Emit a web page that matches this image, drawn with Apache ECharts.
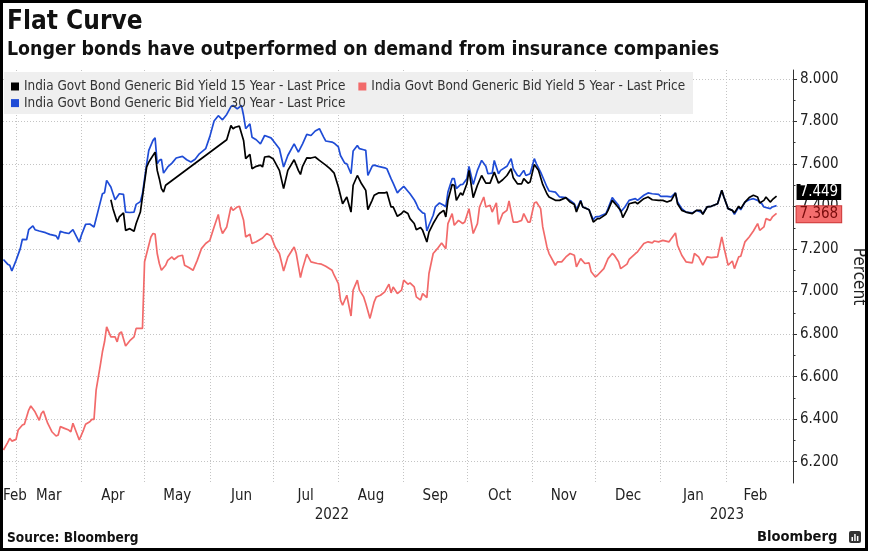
<!DOCTYPE html>
<html><head><meta charset="utf-8">
<script src="https://cdn.jsdelivr.net/npm/echarts@6/dist/echarts.min.js"></script>
<style>html,body{margin:0;padding:0;background:#fff}#c{width:869px;height:554px}</style>
</head><body><div id="c"></div>
<script>
// ---- data (x = days since 2022-03-01, y = yield %) ----
const name15 = 'India Govt Bond Generic Bid Yield 15 Year - Last Price';
const name5 = 'India Govt Bond Generic Bid Yield 5 Year - Last Price';
const name30 = 'India Govt Bond Generic Bid Yield 30 Year - Last Price';

const yield30 = [[-6,7.151],[-4,7.129],[-3,7.124],[-2,7.097],[0,7.147],[2,7.202],[3,7.246],[5,7.244],[6,7.291],[8,7.309],[9,7.291],[11,7.285],[14,7.277],[16,7.269],[19,7.262],[20,7.246],[21,7.284],[23,7.277],[25,7.273],[27,7.291],[30,7.233],[31,7.265],[33,7.316],[35,7.318],[37,7.304],[39,7.382],[41,7.460],[42,7.465],[43,7.523],[45,7.492],[47,7.432],[49,7.460],[51,7.457],[52,7.374],[54,7.372],[56,7.374],[57,7.410],[59,7.423],[60,7.460],[62,7.601],[63,7.664],[65,7.711],[66,7.723],[67,7.601],[68,7.617],[69,7.622],[70,7.557],[72,7.586],[74,7.604],[76,7.628],[79,7.636],[81,7.620],[83,7.609],[85,7.622],[87,7.648],[90,7.672],[92,7.730],[94,7.802],[96,7.827],[98,7.808],[100,7.833],[102,7.870],[103,7.875],[105,7.859],[107,7.875],[108,7.828],[109,7.766],[111,7.789],[112,7.726],[114,7.714],[116,7.695],[118,7.734],[121,7.723],[122,7.711],[125,7.672],[127,7.586],[129,7.640],[132,7.695],[134,7.656],[136,7.695],[138,7.739],[140,7.734],[142,7.755],[144,7.766],[146,7.726],[147,7.708],[150,7.703],[151,7.698],[153,7.680],[154,7.640],[156,7.604],[157,7.601],[159,7.554],[160,7.661],[162,7.687],[163,7.672],[165,7.667],[166,7.664],[167,7.546],[169,7.589],[170,7.595],[172,7.589],[175,7.582],[176,7.578],[178,7.531],[179,7.510],[181,7.464],[182,7.476],[184,7.495],[185,7.484],[187,7.460],[189,7.432],[190,7.413],[191,7.390],[193,7.370],[194,7.367],[195,7.285],[196,7.312],[198,7.359],[199,7.398],[201,7.417],[203,7.406],[204,7.398],[205,7.468],[207,7.531],[208,7.531],[209,7.484],[211,7.503],[212,7.504],[214,7.531],[215,7.589],[217,7.504],[219,7.570],[221,7.617],[223,7.589],[224,7.554],[226,7.557],[227,7.617],[229,7.554],[230,7.570],[233,7.589],[235,7.625],[236,7.578],[238,7.546],[239,7.542],[241,7.570],[242,7.546],[244,7.554],[246,7.625],[247,7.601],[249,7.562],[250,7.539],[252,7.492],[253,7.473],[256,7.468],[258,7.445],[261,7.442],[263,7.429],[265,7.413],[266,7.385],[268,7.429],[269,7.398],[271,7.390],[272,7.385],[274,7.338],[275,7.351],[277,7.354],[280,7.367],[281,7.390],[283,7.442],[284,7.429],[286,7.406],[287,7.374],[289,7.398],[291,7.429],[294,7.437],[295,7.429],[298,7.453],[300,7.464],[302,7.460],[305,7.457],[306,7.448],[309,7.448],[311,7.445],[313,7.464],[314,7.421],[316,7.390],[318,7.374],[321,7.370],[323,7.382],[325,7.374],[326,7.367],[328,7.398],[330,7.401],[333,7.413],[335,7.476],[336,7.445],[338,7.390],[340,7.382],[341,7.363],[343,7.398],[344,7.385],[346,7.421],[348,7.432],[350,7.437],[352,7.429],[354,7.413],[355,7.398],[358,7.390],[359,7.398],[361,7.404]];

const yield15 = [[45,7.432],[46,7.390],[48,7.327],[49,7.351],[51,7.370],[52,7.288],[54,7.296],[56,7.284],[57,7.320],[59,7.374],[60,7.445],[62,7.586],[63,7.609],[64,7.625],[66,7.656],[67,7.570],[68,7.531],[69,7.484],[70,7.468],[71,7.500],[100,7.714],[102,7.781],[103,7.766],[104,7.773],[106,7.778],[108,7.711],[109,7.625],[111,7.645],[112,7.578],[114,7.589],[116,7.595],[117,7.586],[118,7.633],[120,7.636],[122,7.625],[125,7.570],[127,7.484],[129,7.570],[132,7.620],[134,7.570],[135,7.551],[136,7.589],[138,7.629],[140,7.628],[142,7.633],[144,7.617],[147,7.595],[149,7.578],[151,7.557],[153,7.492],[155,7.413],[157,7.445],[159,7.374],[160,7.500],[162,7.546],[164,7.507],[165,7.492],[166,7.476],[167,7.385],[169,7.429],[170,7.453],[172,7.464],[175,7.464],[176,7.468],[178,7.398],[179,7.398],[181,7.354],[183,7.367],[184,7.379],[186,7.367],[187,7.343],[189,7.320],[190,7.291],[192,7.301],[193,7.288],[195,7.233],[196,7.280],[198,7.320],[200,7.354],[201,7.367],[203,7.382],[204,7.351],[205,7.429],[207,7.504],[208,7.500],[209,7.429],[211,7.464],[212,7.453],[214,7.507],[215,7.570],[217,7.442],[219,7.500],[221,7.546],[223,7.510],[225,7.510],[227,7.562],[229,7.510],[231,7.526],[233,7.546],[235,7.578],[236,7.535],[238,7.507],[240,7.507],[241,7.531],[243,7.510],[244,7.515],[246,7.598],[248,7.570],[250,7.504],[252,7.460],[253,7.445],[256,7.429],[258,7.429],[261,7.442],[263,7.421],[265,7.410],[266,7.374],[268,7.426],[269,7.398],[272,7.385],[274,7.327],[276,7.343],[277,7.343],[280,7.363],[281,7.382],[283,7.429],[285,7.406],[287,7.382],[288,7.348],[290,7.385],[291,7.413],[294,7.421],[295,7.413],[298,7.437],[300,7.445],[302,7.432],[305,7.429],[307,7.429],[309,7.421],[311,7.429],[313,7.464],[314,7.413],[316,7.382],[318,7.374],[321,7.367],[323,7.382],[325,7.382],[326,7.363],[328,7.398],[330,7.401],[333,7.413],[335,7.476],[336,7.445],[338,7.390],[340,7.382],[341,7.370],[343,7.401],[344,7.390],[346,7.421],[348,7.442],[350,7.453],[352,7.445],[353,7.417],[355,7.429],[356,7.445],[358,7.421],[359,7.432],[361,7.449]];

const yield5 = [[-6,6.255],[-4,6.290],[-3,6.310],[-2,6.297],[0,6.305],[1,6.349],[3,6.373],[4,6.377],[6,6.443],[7,6.462],[9,6.435],[11,6.395],[12,6.427],[13,6.438],[15,6.381],[17,6.341],[19,6.321],[20,6.326],[21,6.365],[23,6.357],[25,6.349],[26,6.341],[27,6.381],[30,6.302],[32,6.349],[33,6.376],[35,6.388],[36,6.399],[37,6.399],[38,6.537],[40,6.654],[41,6.717],[42,6.764],[43,6.834],[45,6.787],[47,6.787],[48,6.764],[49,6.803],[50,6.811],[52,6.744],[54,6.769],[56,6.787],[57,6.827],[59,6.827],[60,6.827],[61,7.140],[62,7.179],[64,7.257],[65,7.273],[66,7.270],[67,7.179],[68,7.132],[69,7.100],[71,7.124],[72,7.147],[74,7.163],[75,7.151],[77,7.166],[79,7.171],[80,7.124],[82,7.113],[84,7.100],[86,7.147],[88,7.202],[90,7.226],[92,7.241],[94,7.304],[96,7.363],[97,7.304],[98,7.273],[100,7.304],[102,7.398],[103,7.382],[105,7.398],[106,7.401],[108,7.335],[109,7.257],[111,7.270],[112,7.226],[114,7.234],[117,7.252],[119,7.273],[121,7.262],[123,7.210],[125,7.179],[127,7.097],[129,7.163],[132,7.210],[133,7.179],[135,7.066],[136,7.108],[138,7.176],[140,7.140],[143,7.132],[145,7.129],[147,7.119],[150,7.100],[151,7.077],[153,7.038],[154,6.960],[155,6.936],[157,6.983],[159,6.885],[160,7.007],[162,7.054],[163,7.007],[165,6.975],[166,6.944],[168,6.874],[170,6.952],[171,6.975],[173,6.983],[175,6.999],[177,7.035],[178,6.994],[179,7.022],[181,6.991],[183,7.007],[184,7.054],[186,7.035],[187,7.041],[189,7.022],[190,6.975],[192,6.960],[193,6.991],[195,6.972],[196,7.085],[198,7.179],[200,7.202],[202,7.229],[204,7.202],[205,7.320],[207,7.367],[208,7.312],[210,7.335],[212,7.320],[213,7.327],[215,7.390],[217,7.273],[219,7.320],[220,7.398],[222,7.445],[223,7.398],[225,7.406],[226,7.374],[228,7.417],[229,7.316],[231,7.367],[233,7.382],[234,7.426],[236,7.327],[238,7.327],[240,7.335],[241,7.367],[243,7.327],[244,7.327],[246,7.417],[247,7.421],[249,7.390],[250,7.304],[252,7.210],[253,7.179],[256,7.124],[257,7.140],[259,7.140],[261,7.163],[263,7.179],[265,7.171],[266,7.116],[268,7.155],[270,7.132],[272,7.135],[273,7.093],[275,7.069],[276,7.077],[279,7.108],[281,7.155],[283,7.179],[284,7.171],[286,7.140],[287,7.108],[290,7.129],[291,7.151],[294,7.179],[295,7.187],[298,7.226],[300,7.234],[302,7.229],[303,7.238],[305,7.234],[307,7.241],[310,7.234],[311,7.249],[313,7.276],[314,7.218],[316,7.171],[318,7.140],[321,7.135],[322,7.179],[324,7.163],[326,7.124],[328,7.163],[330,7.160],[333,7.163],[335,7.257],[336,7.210],[338,7.124],[340,7.144],[341,7.108],[343,7.163],[344,7.166],[346,7.234],[348,7.257],[350,7.285],[352,7.320],[353,7.288],[355,7.304],[356,7.343],[358,7.335],[359,7.351],[361,7.368]];

const monthNames = ['Jan','Feb','Mar','Apr','May','Jun','Jul','Aug','Sep','Oct','Nov','Dec'];
const yTickValues = [6.2, 6.4, 6.6, 6.8, 7.0, 7.2, 7.4, 7.6, 7.8, 8.0];

// ---- build ----
const DAY = 86400000;
const BASE = Date.UTC(2022, 2, 1);
const xMin = BASE - 6.2 * DAY;
const xMax = BASE + 368.8 * DAY;
const toTime = arr => arr.map(p => [BASE + p[0] * DAY, p[1]]);

const monthStarts = [];
for (let i = 0; i < 12; i++) monthStarts.push(Date.UTC(2022, 2 + i, 1));
const monthLabelVals = [xMin];
for (let i = 0; i < 12; i++) monthLabelVals.push((Date.UTC(2022, 2 + i, 1) + Date.UTC(2022, 3 + i, 1)) / 2);
const yearBreak = Date.UTC(2023, 0, 1);
const yearLabelVals = [(xMin + yearBreak) / 2, (yearBreak + xMax) / 2];
const yMinorValues = yTickValues.slice(0, -1).map(v => +(v + 0.1).toFixed(1));

const FONT = '"DejaVu Sans Condensed", "DejaVu Sans", sans-serif';
const C15 = '#000000', C5 = '#f26a6a', C30 = '#1f4cd6';
const dotted = { color: '#c4c4c4', width: 1, type: [1, 2] };

const chart = echarts.init(document.getElementById('c'), null, { renderer: 'canvas' });
chart.setOption({
  animation: false,
  backgroundColor: '#ffffff',
  grid: { left: 3, right: 76, top: 70, bottom: 71, containLabel: false, outerBoundsMode: 'none' },
  legend: [
    { data: [name15, name5], left: 11, top: 80, padding: 0, itemGap: 13, itemWidth: 8, itemHeight: 8,
      icon: 'rect', selectedMode: false, textStyle: { fontFamily: FONT, fontSize: 13.4, color: '#333' } },
    { data: [name30], left: 11, top: 96.6, padding: 0, itemGap: 13, itemWidth: 8, itemHeight: 8,
      icon: 'rect', selectedMode: false, textStyle: { fontFamily: FONT, fontSize: 13.4, color: '#333' } }
  ],
  xAxis: [
    { type: 'value', position: 'bottom', min: xMin, max: xMax, scale: true,
      axisLine: { show: false },
      axisTick: { show: false, customValues: monthStarts },
      splitLine: { show: true, lineStyle: dotted },
      axisLabel: { customValues: monthLabelVals, alignMinLabel: 'left', showMinLabel: true, margin: 6,
        fontFamily: FONT, fontSize: 15, color: '#222',
        formatter: v => monthNames[new Date(v).getUTCMonth()] } },
    { type: 'value', position: 'bottom', min: xMin, max: xMax, scale: true,
      axisLine: { show: false }, axisTick: { show: false }, splitLine: { show: false },
      axisLabel: { customValues: yearLabelVals, margin: 25, fontFamily: FONT, fontSize: 15, color: '#222',
        formatter: v => String(new Date(v).getUTCFullYear()) } }
  ],
  yAxis: [
    { type: 'value', position: 'right', min: 6.1, max: 8.042,
      axisLine: { show: true, lineStyle: { color: '#333', width: 1 } },
      axisTick: { show: true, inside: false, length: 4, customValues: yTickValues, lineStyle: { color: '#333' } },
      axisLabel: { customValues: yTickValues, margin: 7, fontFamily: FONT, fontSize: 15, color: '#222',
        formatter: v => v.toFixed(3) },
      splitLine: { show: true, lineStyle: dotted },
      name: 'Percent', nameLocation: 'middle', nameRotate: -90, nameGap: 52,
      nameTextStyle: { fontFamily: FONT, fontSize: 17, color: '#222' } },
    { type: 'value', position: 'right', min: 6.1, max: 8.042,
      axisLine: { show: false }, splitLine: { show: false }, axisLabel: { show: false },
      axisTick: { show: true, inside: false, length: 2.5, customValues: yMinorValues, lineStyle: { color: '#333' } } }
  ],
  series: [
    { name: name15, type: 'line', data: toTime(yield15), showSymbol: false, color: C15,
      lineStyle: { width: 1.7, color: C15 }, z: 4,
      endLabel: { show: true, formatter: p => p.value[1].toFixed(3), distance: 20, offset: [0, -4],
        backgroundColor: '#000', color: '#fff', padding: [1, 3, 0, 3], fontFamily: FONT, fontSize: 15, lineHeight: 15 } },
    { name: name5, type: 'line', data: toTime(yield5), showSymbol: false, color: C5,
      lineStyle: { width: 1.7, color: C5 }, z: 3,
      endLabel: { show: true, formatter: p => p.value[1].toFixed(3), distance: 20, offset: [0, 1],
        backgroundColor: '#f46e6e', borderColor: '#cc3a3a', borderWidth: 1, color: '#7a0c0c',
        padding: [1, 3, 0, 3], fontFamily: FONT, fontSize: 15, lineHeight: 15 } },
    { name: name30, type: 'line', data: toTime(yield30), showSymbol: false, color: C30,
      lineStyle: { width: 1.7, color: C30 }, z: 3 }
  ],
  graphic: [
    { type: 'rect', z: 1, shape: { x: 4, y: 72, width: 689, height: 42 }, style: { fill: '#efefef' } },
    { type: 'text', z: 10, style: { text: 'Flat Curve', x: 7, y: 22, textVerticalAlign: 'middle',
        font: 'bold 26px ' + FONT, fill: '#111' } },
    { type: 'text', z: 10, style: { text: 'Longer bonds have outperformed on demand from insurance companies', x: 7, y: 50,
        textVerticalAlign: 'middle', font: 'bold 19.4px ' + FONT, fill: '#111' } },
    { type: 'text', z: 10, style: { text: 'Source: Bloomberg', x: 7, y: 538, textVerticalAlign: 'middle',
        font: 'bold 13.6px ' + FONT, fill: '#111' } },
    { type: 'text', z: 10, style: { text: 'Bloomberg', x: 757, y: 537, textVerticalAlign: 'middle',
        font: 'bold 14.6px ' + FONT, fill: '#111' } },
    { type: 'rect', z: 10, shape: { x: 849, y: 531, width: 12, height: 12, r: 2 }, style: { fill: '#333' } },
    { type: 'rect', z: 11, shape: { x: 851.5, y: 537, width: 1.5, height: 4 }, style: { fill: '#fff' } },
    { type: 'rect', z: 11, shape: { x: 854.2, y: 534, width: 1.5, height: 7 }, style: { fill: '#fff' } },
    { type: 'rect', z: 11, shape: { x: 856.9, y: 536, width: 1.5, height: 5 }, style: { fill: '#fff' } },
    { type: 'rect', z: 20, shape: { x: 1.5, y: 1.5, width: 865, height: 548 },
      style: { fill: 'none', stroke: '#000', lineWidth: 3 } }
  ]
});
</script></body></html>
